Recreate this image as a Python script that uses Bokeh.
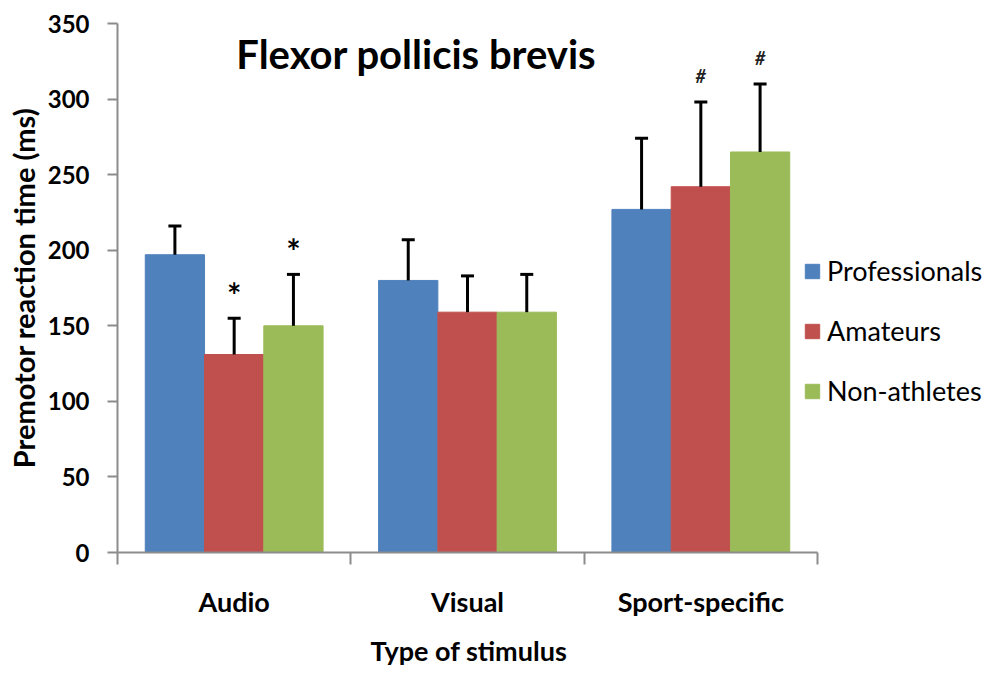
import numpy as np
from bokeh.plotting import figure
from bokeh.models import (ColumnDataSource, Whisker, TeeHead, FixedTicker, Legend,
                          LegendItem, Label, Range1d, Title)
from bokeh.core.properties import value
from bokeh.embed import file_html
from bokeh.resources import INLINE

# ---- data ----
categories = ["Audio", "Visual", "Sport-specific"]
series_names = ["Professionals", "Amateurs", "Non-athletes"]
professionals = [197, 180, 227]
amateurs = [131, 159, 242]
non_athletes = [150, 159, 265]
professionals_err = [19, 27, 47]
amateurs_err = [24, 24, 56]
non_athletes_err = [34, 25, 45]
professionals_marks = ["", "", ""]
amateurs_marks = ["*", "", "#"]
non_athletes_marks = ["*", "", "#"]
y_ticks = [0, 50, 100, 150, 200, 250, 300, 350]
title_text = "Flexor pollicis brevis"
x_title = "Type of stimulus"
y_title = "Premotor reaction time (ms)"

colors = ["#4F81BD", "#C0504D", "#9BBB59"]
FONT = "Lato"
AXIS_GRAY = "#8c8c8c"

# frame spans 117..990 px; categories occupy 117..817 px
n_cat = len(categories)
x_end = n_cat * (990 - 117) / (817 - 117)

p = figure(width=996, height=681, x_range=Range1d(0, x_end), y_range=Range1d(0, 350),
           output_backend="svg", toolbar_location=None, title=None,
           min_border_left=117, min_border_right=6, min_border_top=23,
           min_border_bottom=127)
p.outline_line_color = None
p.grid.visible = False
p.background_fill_color = "white"

# y axis
ya = p.yaxis[0]
ya.ticker = FixedTicker(ticks=y_ticks)
ya.axis_line_color = AXIS_GRAY
ya.axis_line_width = 2
ya.major_tick_line_color = AXIS_GRAY
ya.major_tick_line_width = 2
ya.major_tick_out = 10
ya.major_tick_in = 0
ya.minor_tick_line_color = None
ya.major_label_text_font = FONT
ya.major_label_text_font_style = "bold"
ya.major_label_text_font_size = "24px"
ya.major_label_text_color = "black"
ya.major_label_standoff = 18
ya.axis_label = y_title
ya.axis_label_text_font = FONT
ya.axis_label_text_font_style = "bold"
ya.axis_label_text_font_size = "29px"
ya.axis_label_text_color = "black"
ya.axis_label_standoff = 4

# x axis: labels at category centers, ticks at boundaries
xa = p.xaxis[0]
centers = [i + 0.5 for i in range(n_cat)]
bounds = list(range(n_cat + 1))
xa.bounds = (0, n_cat)
xa.ticker = FixedTicker(ticks=centers, minor_ticks=bounds)
xa.major_label_overrides = {c: name for c, name in zip(centers, categories)}
xa.axis_line_color = AXIS_GRAY
xa.axis_line_width = 2
xa.major_tick_line_color = None
xa.major_tick_out = 0
xa.major_tick_in = 0
xa.minor_tick_line_color = AXIS_GRAY
xa.minor_tick_line_width = 2
xa.minor_tick_out = 12
xa.minor_tick_in = 0
xa.major_label_text_font = FONT
xa.major_label_text_font_style = "bold"
xa.major_label_text_font_size = "27px"
xa.major_label_text_color = "black"
xa.major_label_standoff = 20

# x-axis title centred under the category span (not the whole frame)
xt = Title(text=x_title, align="left", offset=253, standoff=26, vertical_align="top",
           text_font=FONT, text_font_style="bold", text_font_size="27px",
           text_color="black")
p.add_layout(xt, "below")

# bars
bar_w = 0.254
offsets = [-bar_w, 0.0, bar_w]
vals = [professionals, amateurs, non_athletes]
errs = [professionals_err, amateurs_err, non_athletes_err]
marks = [professionals_marks, amateurs_marks, non_athletes_marks]

items = []
star_x, star_y, hash_x, hash_y = [], [], [], []
for i, name in enumerate(series_names):
    x = np.array(centers) + offsets[i]
    v = np.array(vals[i], dtype=float)
    e = np.array(errs[i], dtype=float)
    src = ColumnDataSource(dict(x=x, top=v, upper=v + e, lower=v))
    r = p.vbar(x="x", top="top", bottom=0, width=bar_w, source=src,
               fill_color=colors[i], line_color=colors[i])
    items.append(LegendItem(label=name, renderers=[r]))
    w = Whisker(base="x", upper="upper", lower="lower", source=src,
                dimension="height", line_color="black", line_width=3,
                upper_head=TeeHead(size=13, line_color="black", line_width=3),
                lower_head=None, level="annotation")
    p.add_layout(w)
    for j, m in enumerate(marks[i]):
        if m == "*":
            star_x.append(x[j]); star_y.append(v[j] + e[j])
        elif m == "#":
            hash_x.append(x[j]); hash_y.append(v[j] + e[j])

star_src = ColumnDataSource(dict(x=star_x, y=np.array(star_y) + 16, t=["*"] * len(star_x)))
hash_src = ColumnDataSource(dict(x=hash_x, y=np.array(hash_y) + 17, t=["#"] * len(hash_x)))
p.text(x="x", y="y", text="t", source=star_src, text_font=value(FONT),
       text_font_style="bold", text_font_size="34px", text_align="center",
       text_baseline="middle", text_color="black")
p.text(x="x", y="y", text="t", source=hash_src, text_font=value(FONT),
       text_font_style="bold italic", text_font_size="18px", text_align="center",
       text_baseline="middle", text_color="#222222")

legend = Legend(items=items, location=(686, 145), orientation="vertical",
                glyph_width=18, glyph_height=18, label_standoff=6, spacing=27,
                padding=0, margin=0, border_line_color=None,
                background_fill_alpha=0, label_text_font=FONT,
                label_text_font_size="27px", label_height=18,
                label_text_color="black")
p.add_layout(legend)

title = Label(x=1.281, y=330, text=title_text, text_font=FONT,
              text_font_style="bold", text_font_size="40px",
              text_align="center", text_baseline="middle", text_color="black")
p.add_layout(title)

open("out.html", "w").write(file_html(p, INLINE))
